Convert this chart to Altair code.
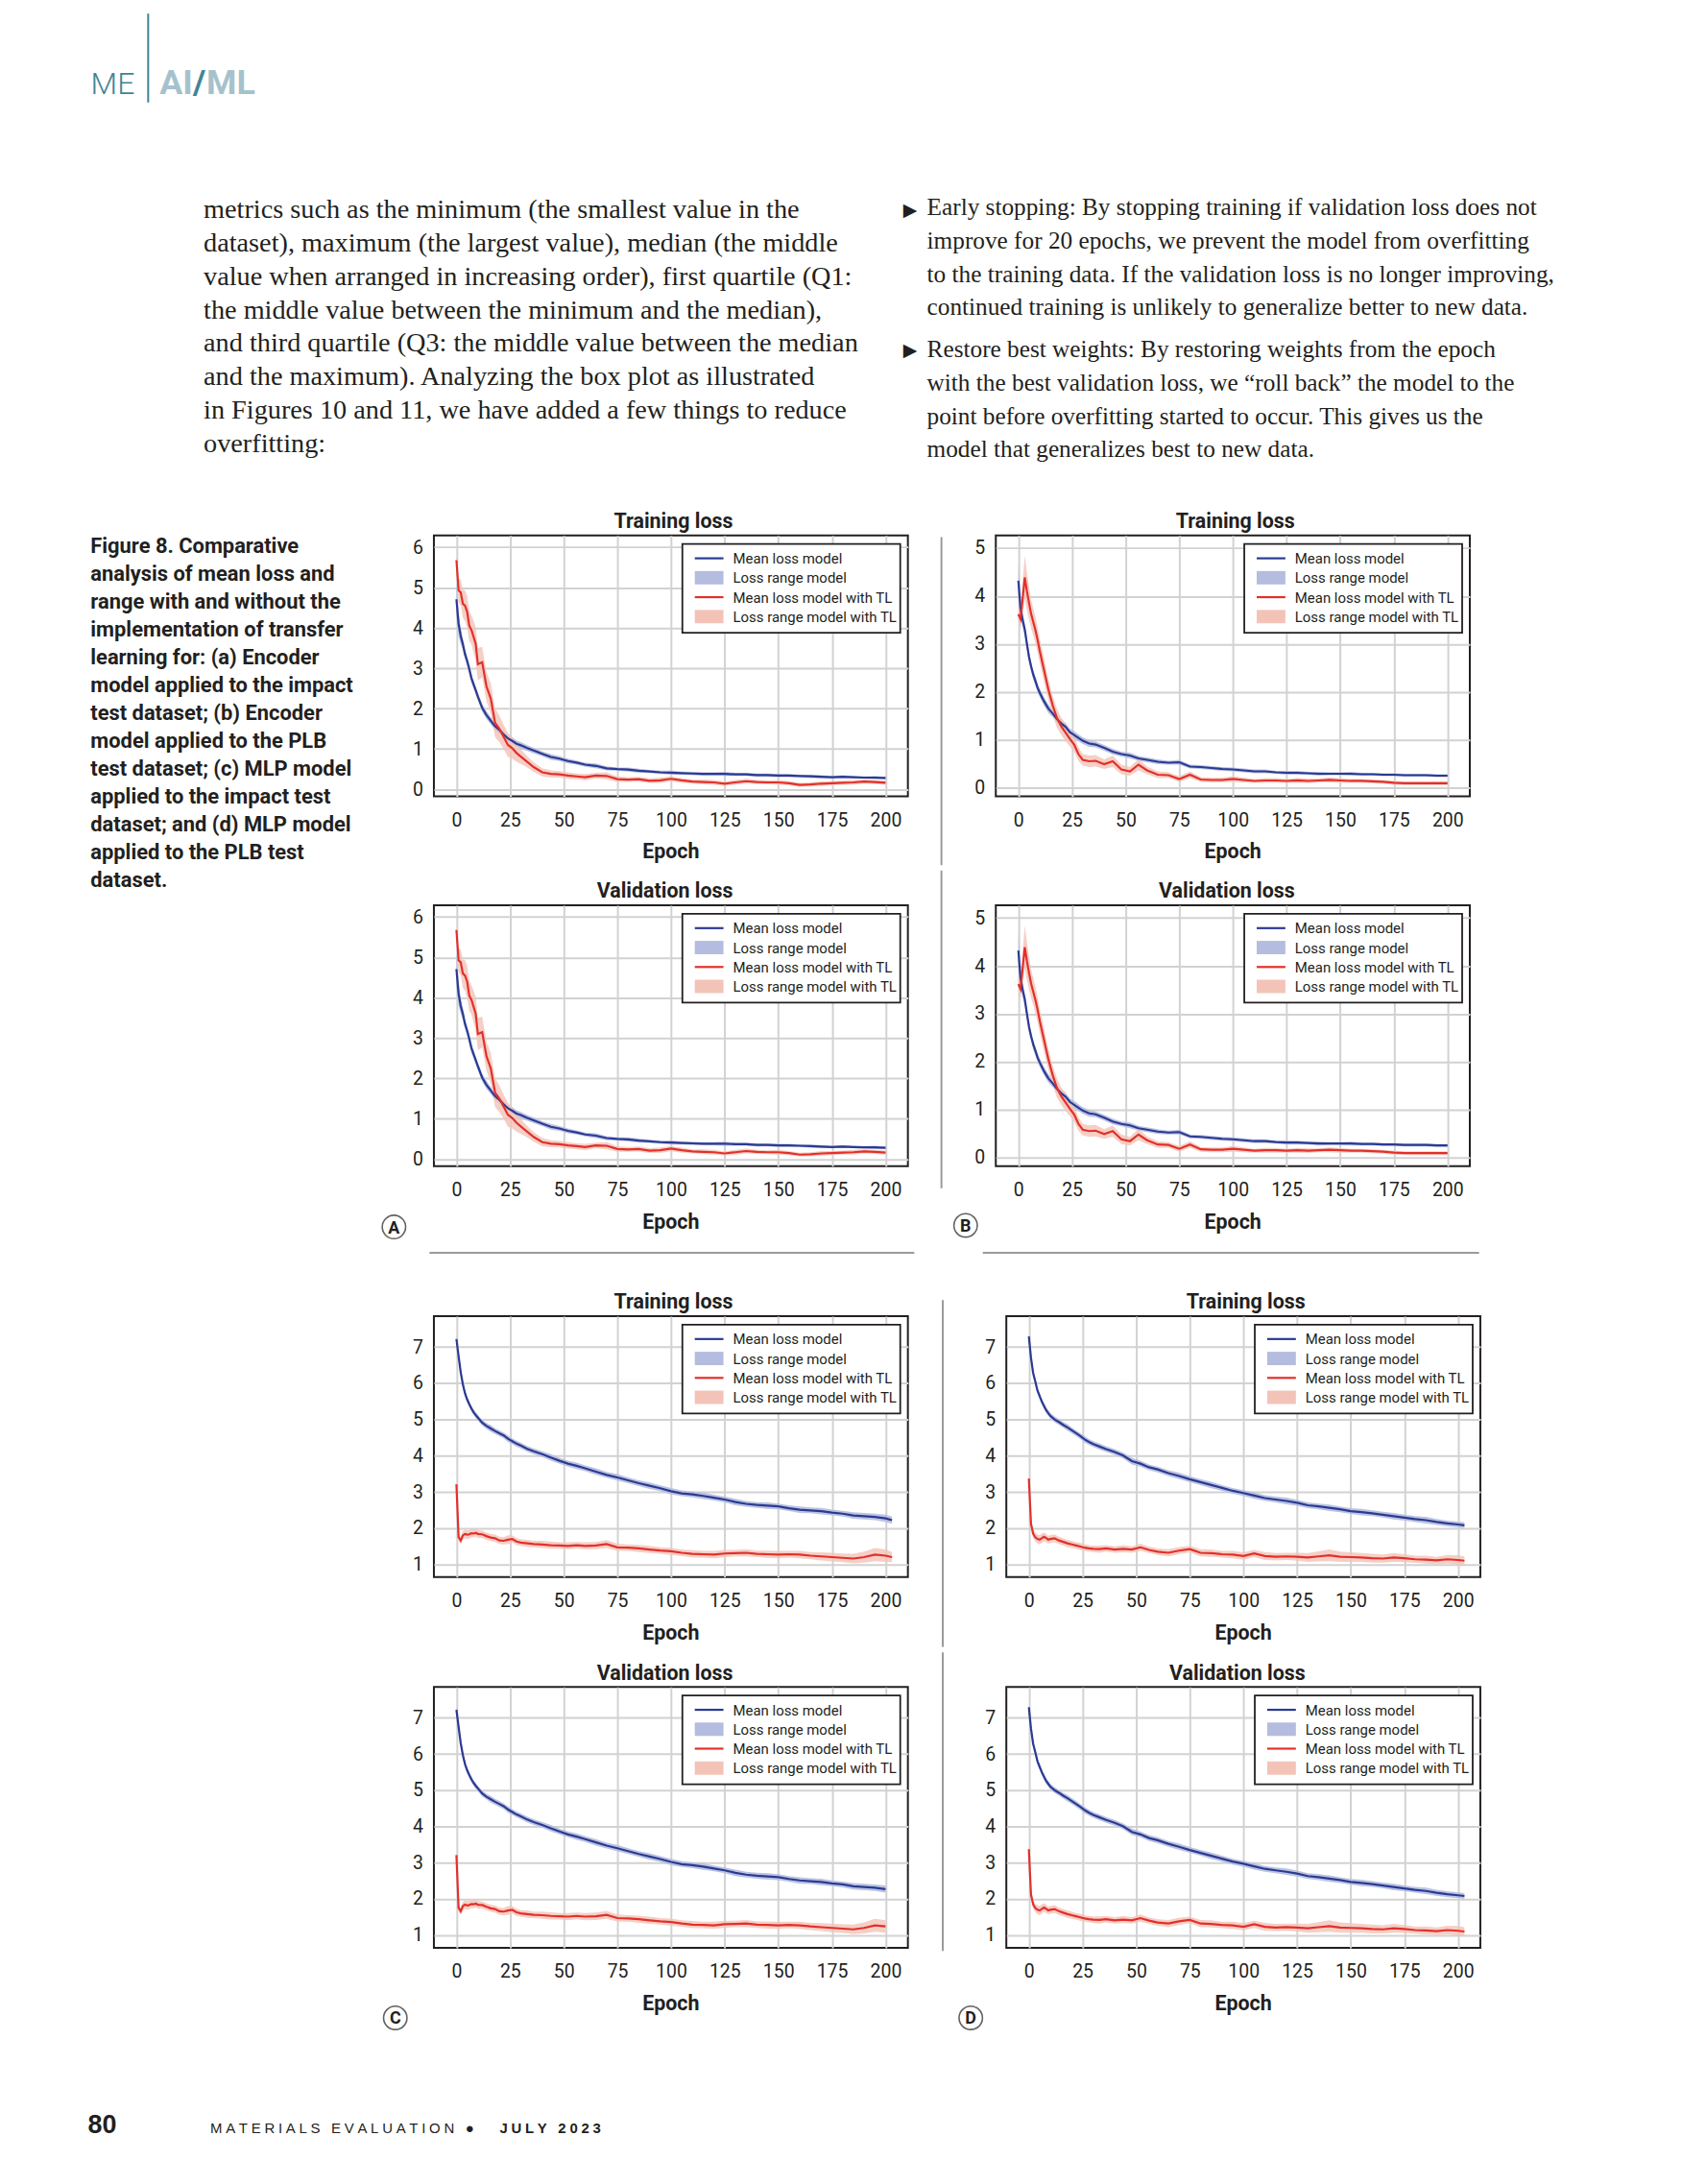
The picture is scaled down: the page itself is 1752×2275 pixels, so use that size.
import altair as alt
import pandas as pd

# ------------------------------------------------------------------ data
EPOCHS = [0, 1, 2, 3, 4, 5, 6, 7, 8, 9, 10,
          12, 14, 16, 18, 20, 22, 24, 26, 28, 30,
          33, 36,
          40, 44, 48, 52, 56,
          60, 65, 70, 75, 80, 85, 90, 95, 100, 105, 110, 115, 120, 125, 130,
          135, 140, 145, 150, 155, 160, 165, 170, 175, 180, 185, 190, 195, 200]
EPOCHS_LONG = EPOCHS + [203]

# (a) Encoder / impact
A_MEAN = [4.71, 4.10, 3.80, 3.60, 3.35, 3.18, 2.98, 2.75, 2.60, 2.45, 2.30,
          2.02, 1.84, 1.70, 1.56, 1.47, 1.36, 1.26, 1.20, 1.13, 1.09,
          1.02, 0.96,
          0.88, 0.80, 0.76, 0.70, 0.66,
          0.61, 0.58, 0.52, 0.50, 0.49, 0.46, 0.44, 0.42, 0.41, 0.40,
          0.39, 0.38, 0.38, 0.38, 0.37, 0.37, 0.35, 0.35, 0.34, 0.34,
          0.33, 0.32, 0.31, 0.30, 0.31, 0.30, 0.29, 0.29, 0.28]
A_SPREAD = [0.45, 0.30, 0.20, 0.15, 0.13, 0.12, 0.12, 0.11, 0.11, 0.10, 0.10,
            0.10, 0.10, 0.09, 0.10, 0.09, 0.09, 0.08, 0.09, 0.08, 0.08,
            0.07, 0.07,
            0.06, 0.07, 0.06, 0.06, 0.05,
            0.05, 0.06, 0.05, 0.04, 0.05, 0.05, 0.04, 0.04, 0.05, 0.04,
            0.04, 0.04, 0.04, 0.05, 0.04, 0.04, 0.04, 0.04, 0.04, 0.04,
            0.03, 0.04, 0.04, 0.03, 0.04, 0.03, 0.03, 0.04, 0.03]
A_TL_MEAN = [5.68, 4.93, 4.88, 4.60, 4.55, 4.40, 4.05, 3.95, 3.78, 3.60, 3.10,
             3.15, 2.55, 2.25, 1.65, 1.50, 1.30, 1.10, 1.02, 0.90, 0.81,
             0.68, 0.55,
             0.42, 0.38, 0.37, 0.34, 0.32,
             0.30, 0.34, 0.33, 0.25, 0.24, 0.25, 0.21, 0.22, 0.26, 0.22,
             0.19, 0.18, 0.17, 0.14, 0.17, 0.20, 0.18, 0.17, 0.17, 0.15,
             0.11, 0.12, 0.14, 0.15, 0.16, 0.17, 0.19, 0.18, 0.16]
A_TL_SPREAD = [0.12, 0.30, 0.32, 0.35, 0.38, 0.40, 0.38, 0.36, 0.40, 0.42, 0.40,
               0.38, 0.36, 0.38, 0.36, 0.33, 0.30, 0.30, 0.26, 0.22, 0.18,
               0.14, 0.12,
               0.10, 0.09, 0.08, 0.08, 0.07,
               0.08, 0.07, 0.09, 0.07, 0.06, 0.06, 0.06, 0.07, 0.06, 0.06,
               0.05, 0.06, 0.06, 0.05, 0.06, 0.06, 0.05, 0.05, 0.06, 0.05,
               0.05, 0.05, 0.06, 0.05, 0.05, 0.06, 0.05, 0.05, 0.05]

# (b) Encoder / PLB
B_MEAN = [4.32, 3.75, 3.50, 3.30, 3.00, 2.72, 2.52, 2.35, 2.22, 2.08, 1.98,
          1.80, 1.65, 1.55, 1.43, 1.34, 1.27, 1.16, 1.10, 1.04, 0.98,
          0.92, 0.90,
          0.83, 0.75, 0.70, 0.67, 0.61,
          0.58, 0.54, 0.52, 0.53, 0.44, 0.43, 0.41, 0.39, 0.38, 0.36,
          0.34, 0.34, 0.32, 0.31, 0.31, 0.30, 0.29, 0.29, 0.29, 0.29,
          0.28, 0.28, 0.27, 0.27, 0.26, 0.26, 0.26, 0.25, 0.25]
B_SPREAD = [0.35, 0.20, 0.15, 0.12, 0.12, 0.11, 0.10, 0.10, 0.10, 0.09, 0.09,
            0.09, 0.09, 0.08, 0.08, 0.08, 0.08, 0.07, 0.08, 0.07, 0.07,
            0.07, 0.06,
            0.06, 0.06, 0.05, 0.06, 0.05,
            0.05, 0.05, 0.04, 0.05, 0.04, 0.04, 0.04, 0.04, 0.04, 0.04,
            0.04, 0.04, 0.03, 0.04, 0.04, 0.03, 0.04, 0.03, 0.03, 0.04,
            0.03, 0.03, 0.03, 0.03, 0.03, 0.03, 0.03, 0.03, 0.03]
B_TL_MEAN = [3.62, 3.52, 3.95, 4.39, 4.10, 3.85, 3.62, 3.45, 3.28, 3.08, 2.85,
             2.45, 2.05, 1.72, 1.45, 1.28, 1.15, 1.02, 0.90, 0.70, 0.58,
             0.55, 0.56,
             0.49, 0.55, 0.38, 0.34, 0.48,
             0.36, 0.27, 0.26, 0.18, 0.27, 0.17, 0.16, 0.16, 0.18, 0.16,
             0.14, 0.15, 0.15, 0.14, 0.15, 0.14, 0.15, 0.16, 0.15, 0.14,
             0.14, 0.13, 0.12, 0.10, 0.09, 0.09, 0.09, 0.09, 0.09]
B_TL_SPREAD = [0.15, 0.20, 0.35, 0.45, 0.40, 0.35, 0.30, 0.28, 0.28, 0.26, 0.25,
               0.25, 0.22, 0.20, 0.20, 0.18, 0.18, 0.16, 0.15, 0.14, 0.12,
               0.12, 0.12,
               0.10, 0.12, 0.10, 0.09, 0.12,
               0.08, 0.07, 0.06, 0.06, 0.07, 0.05, 0.05, 0.05, 0.06, 0.05,
               0.04, 0.05, 0.05, 0.04, 0.05, 0.05, 0.04, 0.05, 0.05, 0.04,
               0.04, 0.04, 0.04, 0.04, 0.04, 0.04, 0.04, 0.04, 0.04]

# (c) MLP / impact
C_MEAN = [7.22, 6.75, 6.30, 5.97, 5.72, 5.55, 5.42, 5.30, 5.20, 5.12, 5.05,
          4.91, 4.82, 4.75, 4.68, 4.62, 4.56, 4.47, 4.40, 4.33, 4.28,
          4.19, 4.12,
          4.04, 3.95, 3.86, 3.78, 3.72,
          3.65, 3.56, 3.47, 3.40, 3.32, 3.24, 3.17, 3.10, 3.02, 2.96,
          2.93, 2.89, 2.84, 2.79, 2.72, 2.67, 2.64, 2.62, 2.60, 2.55,
          2.51, 2.49, 2.47, 2.43, 2.40, 2.35, 2.33, 2.31, 2.27,
          2.22]
C_SPREAD = [0.10, 0.10, 0.10, 0.09, 0.09, 0.08, 0.08, 0.08, 0.08, 0.08, 0.08,
            0.08, 0.08, 0.09, 0.08, 0.08, 0.08, 0.09, 0.08, 0.08, 0.08,
            0.08, 0.08,
            0.08, 0.09, 0.08, 0.08, 0.09,
            0.08, 0.09, 0.08, 0.09, 0.08, 0.08, 0.09, 0.08, 0.09, 0.08,
            0.08, 0.09, 0.08, 0.08, 0.09, 0.08, 0.08, 0.09, 0.08, 0.08,
            0.09, 0.08, 0.09, 0.08, 0.08, 0.09, 0.09, 0.09, 0.10,
            0.10]
C_TL_MEAN = [3.21, 1.75, 1.66, 1.80, 1.84, 1.82, 1.83, 1.86, 1.85, 1.87, 1.84,
             1.83, 1.78, 1.74, 1.72, 1.66, 1.65, 1.68, 1.70, 1.63, 1.60,
             1.58, 1.56,
             1.55, 1.53, 1.52, 1.51, 1.53,
             1.51, 1.52, 1.56, 1.47, 1.46, 1.44, 1.41, 1.38, 1.36, 1.32,
             1.29, 1.28, 1.27, 1.30, 1.31, 1.32, 1.29, 1.28, 1.27, 1.28,
             1.27, 1.24, 1.22, 1.20, 1.18, 1.16, 1.20, 1.27, 1.24,
             1.20]
C_TL_SPREAD = [0.05, 0.10, 0.10, 0.12, 0.12, 0.12, 0.12, 0.12, 0.11, 0.11, 0.11,
               0.10, 0.10, 0.10, 0.10, 0.10, 0.10, 0.12, 0.10, 0.10, 0.09,
               0.10, 0.09,
               0.10, 0.10, 0.09, 0.10, 0.09,
               0.10, 0.10, 0.11, 0.10, 0.09, 0.10, 0.10, 0.09, 0.10, 0.09,
               0.10, 0.09, 0.10, 0.10, 0.09, 0.10, 0.09, 0.10, 0.10, 0.09,
               0.10, 0.10, 0.11, 0.12, 0.12, 0.13, 0.15, 0.18, 0.17,
               0.14]

# (d) MLP / PLB
D_MEAN = [7.29, 6.70, 6.28, 6.05, 5.80, 5.65, 5.50, 5.38, 5.26, 5.18, 5.10,
          5.00, 4.93, 4.85, 4.78, 4.70, 4.62, 4.54, 4.45, 4.38, 4.32,
          4.25, 4.18,
          4.10, 4.00, 3.85, 3.78, 3.68,
          3.62, 3.52, 3.44, 3.35, 3.27, 3.19, 3.11, 3.03, 2.97, 2.90,
          2.83, 2.79, 2.75, 2.70, 2.63, 2.60, 2.56, 2.52, 2.47, 2.44,
          2.41, 2.37, 2.33, 2.29, 2.25, 2.22, 2.17, 2.13, 2.10,
          2.08]
D_SPREAD = [0.10, 0.09, 0.09, 0.09, 0.08, 0.08, 0.08, 0.08, 0.08, 0.08, 0.08,
            0.08, 0.08, 0.08, 0.09, 0.08, 0.08, 0.08, 0.09, 0.08, 0.08,
            0.08, 0.08,
            0.08, 0.08, 0.09, 0.08, 0.08,
            0.08, 0.08, 0.09, 0.08, 0.08, 0.09, 0.08, 0.08, 0.08, 0.09,
            0.08, 0.08, 0.09, 0.08, 0.08, 0.08, 0.09, 0.08, 0.08, 0.09,
            0.08, 0.08, 0.09, 0.08, 0.08, 0.09, 0.08, 0.08, 0.08,
            0.08]
D_TL_MEAN = [3.37, 2.12, 1.85, 1.75, 1.70, 1.68, 1.72, 1.76, 1.73, 1.68, 1.70,
             1.72, 1.66, 1.62, 1.58, 1.55, 1.52, 1.49, 1.46, 1.44, 1.43,
             1.42, 1.44,
             1.41, 1.43, 1.41, 1.47, 1.40,
             1.35, 1.32, 1.38, 1.42, 1.32, 1.31, 1.28, 1.27, 1.23, 1.30,
             1.23, 1.21, 1.22, 1.21, 1.19, 1.22, 1.25, 1.21, 1.20, 1.19,
             1.17, 1.16, 1.19, 1.17, 1.14, 1.13, 1.11, 1.14, 1.12,
             1.10]
D_TL_SPREAD = [0.05, 0.10, 0.12, 0.12, 0.12, 0.13, 0.13, 0.12, 0.12, 0.11, 0.11,
               0.11, 0.10, 0.10, 0.10, 0.10, 0.09, 0.10, 0.09, 0.09, 0.09,
               0.10, 0.09,
               0.09, 0.10, 0.09, 0.10, 0.09,
               0.09, 0.10, 0.10, 0.09, 0.10, 0.10, 0.09, 0.10, 0.10, 0.10,
               0.11, 0.10, 0.10, 0.11, 0.12, 0.14, 0.16, 0.14, 0.13, 0.12,
               0.12, 0.11, 0.12, 0.11, 0.10, 0.11, 0.10, 0.12, 0.13,
               0.12]

X_TICKS = [0, 25, 50, 75, 100, 125, 150, 175, 200]
A_Y_TICKS = [0, 1, 2, 3, 4, 5, 6]
B_Y_TICKS = [0, 1, 2, 3, 4, 5]
CD_Y_TICKS = [1, 2, 3, 4, 5, 6, 7]

LEGEND_LABELS = ["Mean loss model", "Loss range model",
                 "Mean loss model with TL", "Loss range model with TL"]
PANEL_TITLES = ["Training loss", "Validation loss"]
PANEL_LETTERS = ["A", "B", "C", "D"]
X_TITLE = "Epoch"

HEADER_LEFT = "ME"
HEADER_RIGHT = ["AI", "/", "ML"]
LEFT_LINES = [
    "metrics such as the minimum (the smallest value in the",
    "dataset), maximum (the largest value), median (the middle",
    "value when arranged in increasing order), first quartile (Q1:",
    "the middle value between the minimum and the median),",
    "and third quartile (Q3: the middle value between the median",
    "and the maximum). Analyzing the box plot as illustrated",
    "in Figures 10 and 11, we have added a few things to reduce",
    "overfitting:",
]
BULLET_1 = [
    "Early stopping: By stopping training if validation loss does not",
    "improve for 20 epochs, we prevent the model from overfitting",
    "to the training data. If the validation loss is no longer improving,",
    "continued training is unlikely to generalize better to new data.",
]
BULLET_2 = [
    "Restore best weights: By restoring weights from the epoch",
    "with the best validation loss, we \u201croll back\u201d the model to the",
    "point before overfitting started to occur. This gives us the",
    "model that generalizes best to new data.",
]
CAPTION_LINES = [
    "Figure 8. Comparative",
    "analysis of mean loss and",
    "range with and without the",
    "implementation of transfer",
    "learning for: (a) Encoder",
    "model applied to the impact",
    "test dataset; (b) Encoder",
    "model applied to the PLB",
    "test dataset; (c) MLP model",
    "applied to the impact test",
    "dataset; and (d) MLP model",
    "applied to the PLB test",
    "dataset.",
]
FOOTER_PAGE = "80"
FOOTER_MAG = ["MATERIALS", "EVALUATION", "\u25cf"]
FOOTER_DATE = ["JULY", "2023"]

for arr in [A_MEAN, A_SPREAD, A_TL_MEAN, A_TL_SPREAD, B_MEAN, B_SPREAD, B_TL_MEAN, B_TL_SPREAD]:
    assert len(arr) == len(EPOCHS), len(arr)
for arr in [C_MEAN, C_SPREAD, C_TL_MEAN, C_TL_SPREAD, D_MEAN, D_SPREAD, D_TL_MEAN, D_TL_SPREAD]:
    assert len(arr) == len(EPOCHS_LONG), len(arr)

# ------------------------------------------------------------------ style
FONT_C = "Roboto, Liberation Sans, sans-serif"
FONT_S = "Liberation Serif, DejaVu Serif, serif"
FONT_W = "Liberation Sans, Arial, sans-serif"
INK = "#231f20"
BLUE = "#2b3a92"
RED = "#e2302a"
BAND_B = "#b4bcdf"
BAND_T = "#f3c3b8"
GRID = "#d2d2d2"
SEP = "#9a9a9a"
TEAL = "#3f8595"
TEAL_LIGHT = "#a5c2cc"
W, H = 496, 273
X_DOMAIN = [-10.5, 210.4]
HDR_DY = -6   # vertical nudge of the page header block
BODY_DY = 0.5  # body text position inside the header block

ONE = pd.DataFrame({"k": [0]})


def tracked(words):
    gap = "\u2005"
    return (gap + " " + gap).join(gap.join(list(w)) for w in words)


def txt(x, y, s, size, weight="normal", align="left", baseline="alphabetic",
        font=FONT_C, color=INK):
    return alt.Chart(ONE).mark_text(align=align, baseline=baseline, font=font,
                                    fontSize=size, fontWeight=weight, color=color).encode(
        x=alt.value(x), y=alt.value(y), text=alt.value(s))


def lines(x, y0, lh, rows, size, weight="normal", font=FONT_C, color=INK):
    df = pd.DataFrame({"t": rows, "py": [round(y0 + i * lh, 2) for i in range(len(rows))]})
    return alt.Chart(df).mark_text(align="left", baseline="alphabetic", font=font,
                                   fontSize=size, fontWeight=weight, color=color).encode(
        x=alt.value(x), y=alt.Y("py:Q", scale=None, axis=None), text="t:N")


def rect(x1, x2, y1, y2, fill, stroke=None, sw=0, opacity=1.0):
    kw = dict(fill=fill, opacity=opacity)
    if stroke is not None:
        kw.update(stroke=stroke, strokeWidth=sw)
    return alt.Chart(ONE).mark_rect(**kw).encode(
        x=alt.value(x1), x2=alt.value(x2), y=alt.value(y1), y2=alt.value(y2))


def marker(x1, x2, y1, y2):
    # invisible extent that fixes this view's layout bounds
    return rect(x1, x2, y1, y2, "white", opacity=0.0)


def hrule(x1, x2, y, color, w):
    return alt.Chart(ONE).mark_rule(color=color, strokeWidth=w).encode(
        x=alt.value(x1), x2=alt.value(x2), y=alt.value(y))


def vrule(x, y1, y2, color, w):
    return alt.Chart(ONE).mark_rule(color=color, strokeWidth=w).encode(
        x=alt.value(x), y=alt.value(y1), y2=alt.value(y2))


def circ_label(cx, cy, letter):
    ring = alt.Chart(ONE).mark_point(shape="circle", size=600, filled=False,
                                     color=INK, strokeWidth=1.6).encode(
        x=alt.value(cx), y=alt.value(cy))
    return [ring, txt(cx, cy + 6.5, letter, 18, weight="bold", align="center")]


def legend_layers():
    out = [rect(260, 488, 9, 102, "white", INK, 1.8)]
    for i, lab in enumerate(LEGEND_LABELS):
        cy = 24 + 20.33 * i
        if i % 2 == 0:
            out.append(hrule(273, 303, cy, [BLUE, RED][i // 2], 2.2))
        else:
            out.append(rect(273, 303, cy - 7, cy + 7, [BAND_B, BAND_T][i // 2]))
        out.append(txt(313, cy + 5.5, lab, 15))
    return out


def panel(title, ep, bm, bs, tm, ts, ydom, yticks, ext, extras):
    n = len(ep)
    df = pd.DataFrame({
        "epoch": ep,
        "bm": bm[:n],
        "bl": [round(m - s, 3) for m, s in zip(bm[:n], bs[:n])],
        "bh": [round(m + s, 3) for m, s in zip(bm[:n], bs[:n])],
        "tm": tm[:n],
        "tl": [round(m - s, 3) for m, s in zip(tm[:n], ts[:n])],
        "th": [round(m + s, 3) for m, s in zip(tm[:n], ts[:n])],
    })
    xenc = alt.X("epoch:Q", scale=alt.Scale(domain=X_DOMAIN, nice=False, zero=False),
                 axis=alt.Axis(values=X_TICKS, title=None, labelPadding=31,
                               labelBaseline="alphabetic", labelFlush=False,
                               labelFontSize=19.5, labelAlign="center"))
    ysc = alt.Scale(domain=ydom, nice=False, zero=False)
    yax = alt.Axis(values=yticks, title=None, labelPadding=11.6, labelFlush=False,
                   labelFontSize=19.5)
    base = alt.Chart(df)
    layers = [
        base.mark_area(color=BAND_B, opacity=0.9, clip=True).encode(
            x=xenc, y=alt.Y("bl:Q", scale=ysc, axis=yax), y2="bh:Q"),
        base.mark_area(color=BAND_T, opacity=0.8, clip=True).encode(
            x=xenc, y=alt.Y("tl:Q", scale=ysc, axis=yax), y2="th:Q"),
        base.mark_line(color=BLUE, strokeWidth=2.2, clip=True).encode(
            x=xenc, y=alt.Y("bm:Q", scale=ysc, axis=yax)),
        base.mark_line(color=RED, strokeWidth=2.2, clip=True).encode(
            x=xenc, y=alt.Y("tm:Q", scale=ysc, axis=yax)),
    ]
    layers += legend_layers()
    layers.append(txt(313, -7.5, title, 21.5, weight="bold", align="right"))
    layers.append(txt(W / 2, H + 65.3, X_TITLE, 21.5, weight="bold", align="center"))
    layers.append(marker(*ext))
    layers += extras
    return alt.layer(*layers).properties(
        width=W, height=H,
        view=alt.ViewBackground(stroke=INK, strokeWidth=2))


A_YDOM = [-0.173, 6.294]
B_YDOM = [-0.18, 5.267]
CD_YDOM = [0.652, 7.852]

pA_tr = panel(PANEL_TITLES[0], EPOCHS, A_MEAN, A_SPREAD, A_TL_MEAN, A_TL_SPREAD,
              A_YDOM, A_Y_TICKS, (-57.3, 535.7, -34.3, 346.7),
              [vrule(531.1, 1.7, 345.2, SEP, 2)])
pA_va = panel(PANEL_TITLES[1], EPOCHS, A_MEAN, A_SPREAD, A_TL_MEAN, A_TL_SPREAD,
              A_YDOM, A_Y_TICKS, (-57.3, 535.7, -37.9, 381.1),
              [vrule(531.1, -36.4, 296.1, SEP, 2), hrule(-4.6, 502.7, 363.8, SEP, 2)]
              + circ_label(-41.8, 336.7, PANEL_LETTERS[0]))
pB_tr = panel(PANEL_TITLES[0], EPOCHS, B_MEAN, B_SPREAD, B_TL_MEAN, B_TL_SPREAD,
              B_YDOM, B_Y_TICKS, (-49.3, 706.7, -34.3, 346.7), [])
pB_va = panel(PANEL_TITLES[1], EPOCHS, B_MEAN, B_SPREAD, B_TL_MEAN, B_TL_SPREAD,
              B_YDOM, B_Y_TICKS, (-49.3, 706.7, -37.9, 381.1),
              [hrule(-13.6, 505.7, 363.8, SEP, 2)] + circ_label(-31.6, 335.1, PANEL_LETTERS[1]))
pC_tr = panel(PANEL_TITLES[0], EPOCHS_LONG, C_MEAN, C_SPREAD, C_TL_MEAN, C_TL_SPREAD,
              CD_YDOM, CD_Y_TICKS, (-55.4, 537.6, -45.4, 347.6),
              [vrule(532.5, -16.8, 346.1, SEP, 2)])
pC_va = panel(PANEL_TITLES[1], EPOCHS, C_MEAN, C_SPREAD, C_TL_MEAN, C_TL_SPREAD,
              CD_YDOM, CD_Y_TICKS, (-55.4, 537.6, -37.6, 384.4),
              [vrule(532.5, -36.1, 276.4, SEP, 2)] + circ_label(-40.4, 346.4, PANEL_LETTERS[2]))
pD_tr = panel(PANEL_TITLES[0], EPOCHS_LONG, D_MEAN, D_SPREAD, D_TL_MEAN, D_TL_SPREAD,
              CD_YDOM, CD_Y_TICKS, (-58.2, 697.8, -45.4, 347.6), [])
pD_va = panel(PANEL_TITLES[1], EPOCHS_LONG, D_MEAN, D_SPREAD, D_TL_MEAN, D_TL_SPREAD,
              CD_YDOM, CD_Y_TICKS, (-58.2, 697.8, -37.6, 384.4),
              circ_label(-37.2, 346.4, PANEL_LETTERS[3]))

# ------------------------------------------------------------------ page text
d = HDR_DY
b = BODY_DY
header = alt.layer(
    marker(0, 1736, 0, 517 + d),
    vrule(147, 1, 100 + d, TEAL, 2),
    txt(87, 91.5 + d, HEADER_LEFT, 32, weight=300, color=TEAL),
    txt(159, 91.5 + d, HEADER_RIGHT[0], 36, weight="bold", color=TEAL_LIGHT),
    txt(194, 91.5 + d, HEADER_RIGHT[1], 36, weight="bold", color=TEAL),
    txt(208, 91.5 + d, HEADER_RIGHT[2], 36, weight="bold", color=TEAL_LIGHT),
    lines(205, 214.5 + b, 34.95, LEFT_LINES, 28.4, font=FONT_S),
    txt(937, 212 + b, "\u25b6", 19, font="DejaVu Sans"),
    lines(962, 211.5 + b, 34.83, BULLET_1, 25.4, font=FONT_S),
    txt(937, 359 + b, "\u25b6", 19, font="DejaVu Sans"),
    lines(962, 360.3 + b, 34.83, BULLET_2, 25.4, font=FONT_S),
).properties(width=1736, height=517 + d)

# the caption view shares its origin row with the top panel's plot area,
# so its coordinates are measured from there
caption = alt.layer(
    marker(0, 387, -34.3, 1580.7),
    lines(86.7, 18.3, 29.17, CAPTION_LINES, 22, weight="bold"),
).properties(width=387, height=1580)

footer = alt.layer(
    marker(0, 1736, 0, 127),
    txt(84, 81, FOOTER_PAGE, 27, weight="bold", font=FONT_W),
    txt(212, 81, tracked(FOOTER_MAG), 15, font=FONT_W),
    txt(620.6, 81, tracked(FOOTER_DATE), 15, weight="bold", font=FONT_W, align="right"),
).properties(width=1736, height=127)

row1 = alt.hconcat(pA_tr, pB_tr, spacing=0)
row2 = alt.hconcat(pA_va, pB_va, spacing=0)
row3 = alt.hconcat(pC_tr, pD_tr, spacing=0)
row4 = alt.hconcat(pC_va, pD_va, spacing=0)
block = alt.vconcat(row1, row2, row3, row4, spacing=0)
middle = alt.hconcat(caption, block, spacing=0)

chart = alt.vconcat(header, middle, footer, spacing=0, padding=0).configure_view(
    stroke=None
).configure_axis(
    grid=True, gridColor=GRID, gridWidth=2, domain=False, ticks=False, tickSize=0,
    labelFont=FONT_C, labelColor=INK, labelFontSize=19.5
).configure_text(font=FONT_C)

chart.save("out.html", embed_options={"renderer": "svg", "actions": False})
